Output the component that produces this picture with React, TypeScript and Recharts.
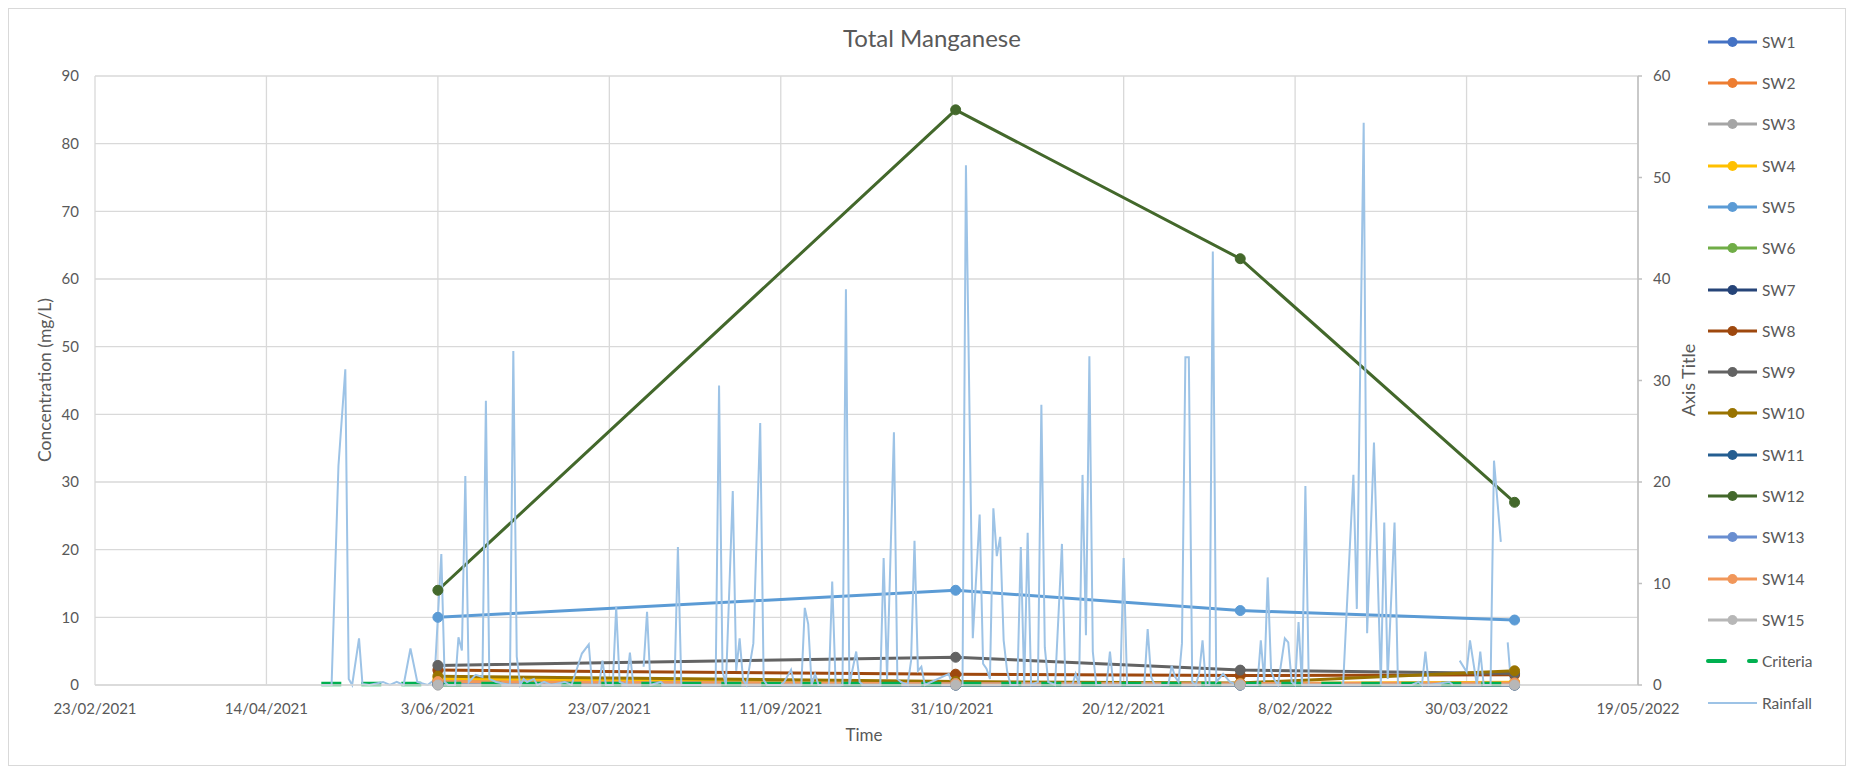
import React from "react";
import { LineChart, Line, XAxis, YAxis, CartesianGrid } from "recharts";

const FONT = "Lato, 'Open Sans', sans-serif";
const TEXT = "#595959";

// ---- data ----
const sampleDates = ["2021-06-03", "2021-11-01", "2022-01-23", "2022-04-13"];
const seriesNames = ["SW1", "SW2", "SW3", "SW4", "SW5", "SW6", "SW7", "SW8", "SW9", "SW10", "SW11", "SW12", "SW13", "SW14", "SW15"];
const seriesColors = ["#4472c4", "#ed7d31", "#a5a5a5", "#ffc000", "#5b9bd5", "#70ad47", "#264478", "#9e480e", "#636363", "#997300", "#255e91", "#43682b", "#698ed0", "#f1975a", "#b7b7b7"];
const sw1 = [0.2, 0.1, 0.1, 0.1];
const sw2 = [0.6, 0.2, 0.2, 0.3];
const sw3 = [0, 0, 0, 0];
const sw4 = [0.9, 0.3, 0.2, 0.4];
const sw5 = [10, 14, 11, 9.6];
const sw6 = [0.3, 0.1, 0.1, 0.2];
const sw7 = [0.1, 0, 0, 0];
const sw8 = [2.2, 1.6, 1.4, 1.5];
const sw9 = [2.9, 4.1, 2.2, 1.7];
const sw10 = [1.3, 0.5, 0.3, 2.1];
const sw11 = [0.1, 0, 0, 0];
const sw12 = [14, 85, 63, 27];
const sw13 = [0.4, 0.2, 0.1, 0.1];
const sw14 = [0.5, 0.2, 0.2, 0.3];
const sw15 = [0, 0, 0, 0];
const swValues = [sw1, sw2, sw3, sw4, sw5, sw6, sw7, sw8, sw9, sw10, sw11, sw12, sw13, sw14, sw15];

const criteriaDates = ["2021-04-30", "2022-04-12"];
const criteriaValues = [0.15, 0.15];

const rainfallDates = [
  "2021-04-30", "2021-05-03", "2021-05-05", "2021-05-07", "2021-05-08", "2021-05-09", "2021-05-11", "2021-05-12", "2021-05-14", "2021-05-18",
  "2021-05-20", "2021-05-22", "2021-05-24", "2021-05-26", "2021-05-28", "2021-05-31", "2021-06-02", "2021-06-04", "2021-06-05", "2021-06-06",
  "2021-06-08", "2021-06-09", "2021-06-10", "2021-06-11", "2021-06-12", "2021-06-14", "2021-06-16", "2021-06-17", "2021-06-18", "2021-06-20",
  "2021-06-24", "2021-06-25", "2021-06-26", "2021-06-27", "2021-06-28", "2021-06-29", "2021-07-01", "2021-07-02", "2021-07-04", "2021-07-06",
  "2021-07-10", "2021-07-12", "2021-07-15", "2021-07-17", "2021-07-18", "2021-07-20", "2021-07-21", "2021-07-22", "2021-07-24", "2021-07-25",
  "2021-07-26", "2021-07-28", "2021-07-29", "2021-07-30", "2021-07-31", "2021-08-02", "2021-08-03", "2021-08-04", "2021-08-07", "2021-08-08",
  "2021-08-11", "2021-08-12", "2021-08-13", "2021-08-23", "2021-08-24", "2021-08-25", "2021-08-26", "2021-08-28", "2021-08-29", "2021-08-30",
  "2021-08-31", "2021-09-01", "2021-09-03", "2021-09-05", "2021-09-06", "2021-09-07", "2021-09-11", "2021-09-12", "2021-09-14", "2021-09-15",
  "2021-09-17", "2021-09-18", "2021-09-19", "2021-09-20", "2021-09-21", "2021-09-22", "2021-09-25", "2021-09-26", "2021-09-27", "2021-09-29",
  "2021-09-30", "2021-10-01", "2021-10-03", "2021-10-04", "2021-10-05", "2021-10-10", "2021-10-11", "2021-10-12", "2021-10-14", "2021-10-15",
  "2021-10-16", "2021-10-18", "2021-10-19", "2021-10-20", "2021-10-21", "2021-10-22", "2021-10-23", "2021-10-30", "2021-10-31", "2021-11-03",
  "2021-11-04", "2021-11-06", "2021-11-08", "2021-11-09", "2021-11-10", "2021-11-11", "2021-11-12", "2021-11-13", "2021-11-14", "2021-11-15",
  "2021-11-16", "2021-11-17", "2021-11-19", "2021-11-20", "2021-11-21", "2021-11-22", "2021-11-23", "2021-11-25", "2021-11-26", "2021-11-27",
  "2021-11-28", "2021-11-30", "2021-12-02", "2021-12-03", "2021-12-05", "2021-12-06", "2021-12-07", "2021-12-08", "2021-12-09", "2021-12-10",
  "2021-12-11", "2021-12-12", "2021-12-15", "2021-12-16", "2021-12-17", "2021-12-19", "2021-12-20", "2021-12-21", "2021-12-26", "2021-12-27",
  "2021-12-28", "2021-12-29", "2022-01-02", "2022-01-03", "2022-01-04", "2022-01-05", "2022-01-06", "2022-01-07", "2022-01-08", "2022-01-09",
  "2022-01-10", "2022-01-11", "2022-01-12", "2022-01-13", "2022-01-14", "2022-01-15", "2022-01-16", "2022-01-18", "2022-01-20", "2022-01-22",
  "2022-01-28", "2022-01-29", "2022-01-30", "2022-01-31", "2022-02-01", "2022-02-02", "2022-02-03", "2022-02-05", "2022-02-06", "2022-02-07",
  "2022-02-08", "2022-02-09", "2022-02-10", "2022-02-11", "2022-02-12", "2022-02-22", "2022-02-23", "2022-02-25", "2022-02-26", "2022-02-28",
  "2022-03-01", "2022-03-03", "2022-03-05", "2022-03-06", "2022-03-07", "2022-03-09", "2022-03-10", "2022-03-14", "2022-03-16", "2022-03-17",
  "2022-03-18", "2022-03-19", "2022-03-25", "2022-03-26", "2022-03-27", "2022-03-28", "2022-03-30", "2022-03-31", "2022-04-02", "2022-04-03",
  "2022-04-04", "2022-04-06", "2022-04-07", "2022-04-09", "2022-04-10", "2022-04-11", "2022-04-12",
];
const rainfallMm: (number | null)[] = [
  0, 0, 21.6, 31.1, 0.6, 0, 4.6, 0.1, 0, 0.3,
  0, 0.3, 0, 3.6, 0.3, 0, 0.5, 12.9, 0.3, 0,
  0, 4.7, 3.4, 20.6, 0.3, 1.0, 0.8, 28.0, 0.6, 0.3,
  0, 32.9, 2.8, 0, 0.6, 0.3, 0.6, 0, 0.3, 0,
  0.3, 0, 3.1, 4.0, 0, 0, 2.4, 0, 0, 7.7,
  0.3, 0, 3.2, 0, null, 1.8, 7.2, 0, 0.3, 0,
  0, 13.6, 0, 0, 29.5, 1.4, 0, 19.1, 1.4, 4.6,
  0.5, 0, 4.1, 25.8, 0.5, 0, 0, 0.3, 1.5, 0,
  0, 7.6, 6.0, 0, 1.1, 0, 0, 10.2, 0, 0,
  39.0, 0, 3.3, 0.3, 0, 0, 12.5, 0.6, 24.9, 0.6,
  0.3, 0, 2.4, 14.2, 1.4, 1.8, 0, 1.1, 0, 0,
  51.2, 4.6, 16.8, 2.1, 1.6, 0.6, 17.4, 12.7, 14.6, 4.4,
  1.4, 0, 0, 13.6, 0, 15.0, 0, 0.3, 27.6, 3.7,
  0.3, 0, 13.9, 0, 0, 1.1, 0, 20.7, 4.9, 32.4,
  3.3, 0, 0, 3.3, 0, 0, 12.5, 0, 0, 5.5,
  0.8, 0, 0, 1.9, 0.8, 0.3, 4.1, 32.3, 32.3, 0.3,
  0, 1.1, 4.4, 0, 0, 42.7, 0.3, 1.1, 0.3, 0,
  0, 4.4, 0.3, 10.6, 1.4, 0.5, 0, 4.6, 4.2, 0.3,
  0, 6.2, 0, 19.6, 0, 0, 7.0, 20.7, 7.5, 55.4,
  5.1, 23.9, 0, 16.0, 0.6, 16.0, 0, 0, 0.3, 0,
  3.3, 0, 0.3, 0, null, 2.4, 1.3, 4.4, 0, 3.3,
  0, 0, 22.1, 14.1, null, 4.2, 0,
];

const xTickDates = ["2021-02-23", "2021-04-14", "2021-06-03", "2021-07-23", "2021-09-11", "2021-10-31", "2021-12-20", "2022-02-08", "2022-03-30", "2022-05-19"];
const leftTicks = [0, 10, 20, 30, 40, 50, 60, 70, 80, 90];
const rightTicks = [0, 10, 20, 30, 40, 50, 60];

// ---- helpers ----
const toT = (s: string) => Date.UTC(+s.slice(0, 4), +s.slice(5, 7) - 1, +s.slice(8, 10));
const fmtDate = (t: number) => {
  const d = new Date(t);
  return `${d.getUTCDate()}/${String(d.getUTCMonth() + 1).padStart(2, "0")}/${d.getUTCFullYear()}`;
};

const xTicks = xTickDates.map(toT);
const swData = swValues.map((vals) => vals.map((v, i) => ({ t: toT(sampleDates[i]), v })));
const rainData = rainfallDates.map((d, i) => ({ t: toT(d), v: rainfallMm[i] }));
const criteriaData = criteriaDates.map((d, i) => ({ t: toT(d), v: criteriaValues[i] }));

const W = 1836;
const H = 756;
const TICK = 15;

export default function App() {
  const legendItems = [
    ...seriesNames.map((n, i) => ({ name: n, color: seriesColors[i], kind: "marker" })),
    { name: "Criteria", color: "#00b050", kind: "dash" },
    { name: "Rainfall", color: "#9dc3e6", kind: "thin" },
  ];
  return (
    <div
      style={{
        position: "relative",
        width: W,
        height: H,
        border: "1px solid #d9d9d9",
        background: "#fff",
        fontFamily: FONT,
      }}
    >
      <LineChart width={W} height={H} margin={{ top: 67, left: 26, right: 147, bottom: 50 }}>
        <CartesianGrid yAxisId="left" stroke="#d9d9d9" strokeWidth={1.3} fill="none" />
        <XAxis
          dataKey="t"
          type="number"
          domain={[xTicks[0], xTicks[xTicks.length - 1]]}
          ticks={xTicks}
          interval={0}
          tickFormatter={fmtDate}
          allowDataOverflow
          height={30}
          axisLine={{ stroke: "#d9d9d9", strokeWidth: 1.3 }}
          tickLine={false}
          tickSize={0}
          tickMargin={18}
          tick={{ fill: TEXT, fontSize: TICK, fontFamily: FONT }}
        />
        <YAxis
          yAxisId="left"
          domain={[0, 90]}
          ticks={leftTicks}
          interval={0}
          width={60}
          axisLine={false}
          tickLine={false}
          tickSize={0}
          tickMargin={16}
          tick={{ fill: TEXT, fontSize: TICK, fontFamily: FONT }}
        />
        <YAxis
          yAxisId="right"
          orientation="right"
          domain={[0, 60]}
          ticks={rightTicks}
          interval={0}
          width={60}
          axisLine={{ stroke: "#bfbfbf", strokeWidth: 1.5 }}
          tickLine={{ stroke: "#bfbfbf", strokeWidth: 1.5 }}
          tickSize={4}
          tickMargin={11}
          tick={{ fill: TEXT, fontSize: TICK, fontFamily: FONT, textAnchor: "start" }}
        />
        {swData.map((d, i) => (
          <Line
            key={seriesNames[i]}
            yAxisId="left"
            data={d}
            dataKey="v"
            name={seriesNames[i]}
            stroke={seriesColors[i]}
            strokeWidth={3}
            dot={{ r: 5, fill: seriesColors[i], stroke: seriesColors[i], strokeWidth: 1 }}
            activeDot={false}
            isAnimationActive={false}
          />
        ))}
        <Line
          yAxisId="left"
          data={criteriaData}
          dataKey="v"
          name="Criteria"
          stroke="#00b050"
          strokeWidth={4.5}
          strokeDasharray="20 20"
          dot={false}
          activeDot={false}
          isAnimationActive={false}
        />
        <Line
          yAxisId="right"
          data={rainData}
          dataKey="v"
          name="Rainfall"
          stroke="#9dc3e6"
          strokeWidth={2}
          dot={false}
          activeDot={false}
          connectNulls={false}
          isAnimationActive={false}
        />
      </LineChart>

      {/* title */}
      <div style={{ position: "absolute", left: 0, width: 1846, top: 14, textAlign: "center", fontSize: 24, color: TEXT }}>
        Total Manganese
      </div>
      {/* x axis title */}
      <div style={{ position: "absolute", left: 755, width: 200, top: 715, textAlign: "center", fontSize: 17, color: TEXT }}>
        Time
      </div>
      {/* left axis title */}
      <div
        style={{
          position: "absolute",
          left: 36 - 150,
          width: 300,
          top: 371 - 11,
          textAlign: "center",
          fontSize: 17.5,
          color: TEXT,
          transform: "rotate(-90deg)",
          lineHeight: "22px",
        }}
      >
        Concentration (mg/L)
      </div>
      {/* right axis title */}
      <div
        style={{
          position: "absolute",
          left: 1679 - 150,
          width: 300,
          top: 371 - 11,
          textAlign: "center",
          fontSize: 18,
          fontFamily: "'Liberation Sans Narrow', Lato, sans-serif",
          color: TEXT,
          transform: "rotate(-90deg)",
          lineHeight: "22px",
        }}
      >
        Axis Title
      </div>
      {/* legend */}
      <div style={{ position: "absolute", left: 1695, top: 0, width: 140 }}>
        {legendItems.map((it, i) => (
          <div key={it.name} style={{ position: "absolute", left: 0, top: 32.7 + 41.3 * i - 11, height: 22, display: "flex", alignItems: "center" }}>
            <svg width={56} height={22} style={{ display: "block" }}>
              {it.kind === "marker" && (
                <>
                  <line x1={4} x2={53} y1={11} y2={11} stroke={it.color} strokeWidth={3} />
                  <circle cx={28.5} cy={11} r={5} fill={it.color} />
                </>
              )}
              {it.kind === "dash" && (
                <>
                  <line x1={4} x2={21} y1={11} y2={11} stroke={it.color} strokeWidth={4} strokeLinecap="round" />
                  <line x1={45} x2={52} y1={11} y2={11} stroke={it.color} strokeWidth={4} strokeLinecap="round" />
                </>
              )}
              {it.kind === "thin" && <line x1={4} x2={53} y1={11} y2={11} stroke={it.color} strokeWidth={2} />}
            </svg>
            <span style={{ fontSize: 15.5, color: TEXT, marginLeft: 2, whiteSpace: "nowrap" }}>{it.name}</span>
          </div>
        ))}
      </div>
    </div>
  );
}
